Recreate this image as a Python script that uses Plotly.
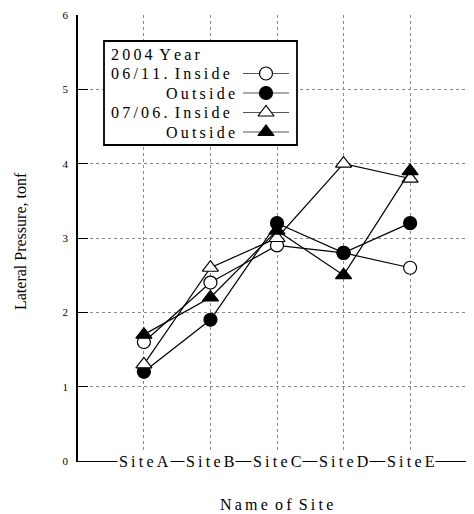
import plotly.graph_objects as go

# ---- data ----
sites = ["SiteA", "SiteB", "SiteC", "SiteD", "SiteE"]
inside_0611 = [1.6, 2.4, 2.9, 2.8, 2.6]
outside_0611 = [1.2, 1.9, 3.2, 2.8, 3.2]
inside_0706 = [1.3, 2.6, 3.0, 4.0, 3.8]
outside_0706 = [1.7, 2.2, 3.1, 2.5, 3.9]
y_ticks = [0, 1, 2, 3, 4, 5, 6]

legend_title = "2004 Year"
legend_rows = [
    ("06/11. Inside", "left", "circle-open"),
    ("Outside", "right", "circle"),
    ("07/06. Inside", "left", "triangle-up-open"),
    ("Outside", "right", "triangle-up"),
]

SERIF = "Liberation Serif, Times New Roman, serif"
W, H = 474, 514
OFF = 8  # page body margin


def spaced(s):
    return "\u2009 ".join("\u2009".join(list(w)) for w in s.split(" "))


fig = go.Figure()

series = [
    (inside_0611, "circle", "white"),
    (outside_0611, "circle", "black"),
    (inside_0706, "triangle-up", "white"),
    (outside_0706, "triangle-up", "black"),
]
for vals, sym, fill in series:
    fig.add_trace(go.Scatter(
        x=sites, y=vals, mode="lines+markers",
        line=dict(color="black", width=1.2),
        marker=dict(symbol=sym, size=13 if sym == "circle" else 14, color=fill,
                    line=dict(color="black", width=1.2)),
        xaxis="x", yaxis="y", showlegend=False, hoverinfo="skip",
    ))

# ---- legend (pixel-space axes) ----
row_y = [54, 73.5, 93, 112.5, 132]
for i, (label, align, sym) in enumerate(legend_rows):
    yy = row_y[i + 1]
    fig.add_trace(go.Scatter(
        x=[243, 289], y=[yy, yy], mode="lines",
        line=dict(color="#555555", width=1.2),
        xaxis="x3", yaxis="y3", showlegend=False, hoverinfo="skip"))
    fig.add_trace(go.Scatter(
        x=[266], y=[yy], mode="markers",
        marker=dict(symbol=sym.replace("-open", ""), size=13 if "circle" in sym else 14,
                    color="white" if "open" in sym else "black",
                    line=dict(color="black", width=1.2)),
        xaxis="x3", yaxis="y3", showlegend=False, hoverinfo="skip"))

annotations = []
annotations.append(dict(text=spaced(legend_title), x=109, y=row_y[0],
                        xref="x3", yref="y3", xanchor="left", yanchor="middle",
                        showarrow=False, font=dict(family=SERIF, size=16, color="black")))
for i, (label, align, sym) in enumerate(legend_rows):
    annotations.append(dict(text=spaced(label), x=109 if align == "left" else 237,
                            y=row_y[i + 1], xref="x3", yref="y3",
                            xanchor="left" if align == "left" else "right",
                            yanchor="middle", showarrow=False,
                            font=dict(family=SERIF, size=16, color="black")))

# x tick labels sitting on the axis line
for s in sites:
    annotations.append(dict(text=spaced(s), x=s, y=0, xref="x", yref="y",
                            xanchor="center", yanchor="middle", showarrow=False,
                            bgcolor="white", borderpad=1,
                            font=dict(family=SERIF, size=16, color="black")))

# axis titles
annotations.append(dict(text=spaced("Name of Site"),
                        x=276, y=504, xref="x3", yref="y3", xanchor="center",
                        yanchor="middle", showarrow=False,
                        font=dict(family=SERIF, size=16, color="black")))
annotations.append(dict(text="Lateral Pressure, tonf", x=20, y=241, xref="x3", yref="y3",
                        xanchor="center", yanchor="middle", showarrow=False, textangle=-90,
                        font=dict(family=SERIF, size=16, color="black")))

x_dom = [(78 - OFF) / W, (474 - OFF) / W]
y_dom = [(H - (461 - OFF)) / H, (H - (15 - OFF)) / H]
x_rng = [-0.99, 4.96]

fig.update_layout(
    width=W, height=H,
    margin=dict(l=0, r=0, t=0, b=0, autoexpand=False),
    paper_bgcolor="white", plot_bgcolor="rgba(0,0,0,0)",
    showlegend=False,
    annotations=annotations,
    shapes=[dict(type="rect", xref="x3", yref="y3", x0=104, x1=297, y0=41, y1=145,
                 line=dict(color="black", width=1.8), fillcolor="white", layer="below")],
    xaxis=dict(domain=x_dom, type="category", categoryarray=sites, range=x_rng,
               showticklabels=False, ticks="", showline=True, linecolor="black",
               linewidth=1.2, showgrid=True, gridcolor="#8a8a8a", griddash="dot",
               gridwidth=1, zeroline=False, anchor="y", fixedrange=True, automargin=False),
    xaxis2=dict(domain=x_dom, type="linear", range=x_rng, overlaying="x", side="top",
                anchor="y", tickmode="array", tickvals=list(range(len(sites))),
                ticks="inside", ticklen=8, tickwidth=1.2, tickcolor="black",
                showticklabels=False, showline=True, linecolor="black", linewidth=1.5,
                showgrid=False, zeroline=False, fixedrange=True, automargin=False),
    yaxis=dict(domain=y_dom, range=[0, 6], tickmode="array", tickvals=y_ticks,
               ticks="inside", ticklen=10, tickwidth=1.2, tickcolor="black",
               showline=True, linecolor="black", linewidth=1.6,
               showgrid=True, gridcolor="#8a8a8a", griddash="dot", gridwidth=1,
               zeroline=False, ticklabelstandoff=6,
               tickfont=dict(family=SERIF, size=11, color="black"),
               anchor="x", fixedrange=True, automargin=False),
    yaxis2=dict(domain=y_dom, range=[0, 6], overlaying="y", side="right", anchor="x",
                tickmode="array", tickvals=y_ticks, ticks="inside", ticklen=7,
                tickwidth=1.2, tickcolor="black", showticklabels=False,
                showline=False, showgrid=False, zeroline=False, fixedrange=True,
                automargin=False),
    xaxis3=dict(domain=[0, 1], range=[OFF, W + OFF], visible=False, anchor="y3",
                fixedrange=True, automargin=False),
    yaxis3=dict(domain=[0, 1], range=[H + OFF, OFF], visible=False, anchor="x3",
                fixedrange=True, automargin=False),
)

fig.write_html("out.html")
